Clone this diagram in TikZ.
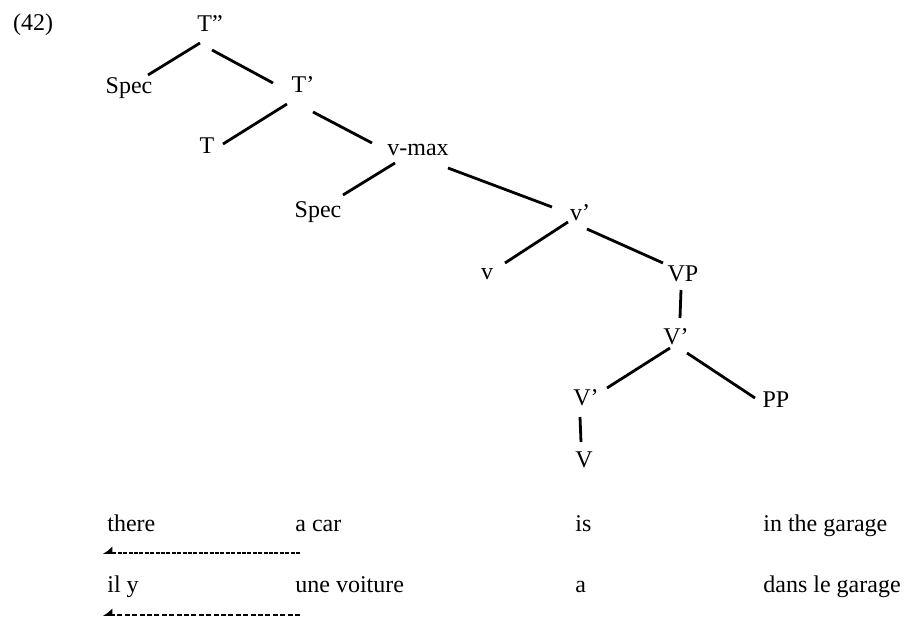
\documentclass[tikz,border=0pt]{standalone}
\usepackage{fontspec}
\setmainfont{Liberation Serif}
\usetikzlibrary{arrows.meta}

\tikzset{
  cat/.style={inner sep=2.5pt, font=\fontsize{12}{14}\selectfont},
  word/.style={anchor=base west, inner sep=0pt, font=\fontsize{12}{14}\selectfont},
  branch/.style={line width=1.4pt},
  move/.style={line width=0.8pt, -{Latex[right, length=4pt, width=7pt]}}
}

\begin{document}
\begin{tikzpicture}[x=0.5pt,y=-0.5pt]
    \useasboundingbox (0,0) rectangle (912,620);

    % tree
    \node[cat] (ex) at (33,25) {(42)};
    \node[cat] (tpp) at (210,24) {T''};
    \node[cat] (spec1) at (129,88) {Spec};
    \node[cat] (tp) at (303,85) {T'};
    \node[cat] (t) at (207,146) {T};
    \node[cat] (vmax) at (418,150) {v-max};
    \node[cat] (spec2) at (318,212) {Spec};
    \node[cat] (vbp) at (580,213) {v'};
    \node[cat] (vsm) at (487,274) {v};
    \node[cat] (vp) at (683,274) {VP};
    \node[cat] (vb1) at (676,337) {V'};
    \node[cat] (vb2) at (586,398) {V'};
    \node[cat] (pp) at (776,400) {PP};
    \node[cat] (vh) at (584,460) {V};

    % branches, ends offset from the labels' centres
    \draw[branch] ([shift={(-10,19)}]tpp.center) -- ([shift={(19,-13)}]spec1.center);
    \draw[branch] ([shift={(2,26)}]tpp.center) -- ([shift={(-30,-2)}]tp.center);
    \draw[branch] ([shift={(-16,19)}]tp.center) -- ([shift={(16,-2)}]t.center);
    \draw[branch] ([shift={(10,27)}]tp.center) -- ([shift={(-46,-7)}]vmax.center);
    \draw[branch] ([shift={(-23,13)}]vmax.center) -- ([shift={(25,-17)}]spec2.center);
    \draw[branch] ([shift={(30,18)}]vmax.center) -- ([shift={(-28,-6)}]vbp.center);
    \draw[branch] ([shift={(-12,9)}]vbp.center) -- ([shift={(18,-11)}]vsm.center);
    \draw[branch] ([shift={(7,16)}]vbp.center) -- ([shift={(-20,-11)}]vp.center);
    \draw[branch] ([shift={(-2,16)}]vp.center) -- ([shift={(4,-19)}]vb1.center);
    \draw[branch] ([shift={(-6,11)}]vb1.center) -- ([shift={(21,-10)}]vb2.center);
    \draw[branch] ([shift={(11,16)}]vb1.center) -- ([shift={(-21,-2)}]pp.center);
    \draw[branch] ([shift={(-6,19)}]vb2.center) -- ([shift={(-3,-18)}]vh.center);

    % English
    \node[word] (there) at (107,532) {there};
    \node[word] (acar) at (295,532) {a car};
    \node[word] (is) at (575,532) {is};
    \node[word] (inthe) at (763,532) {in the garage};
    % French
    \node[word] (ily) at (107,593) {il y};
    \node[word] (voiture) at (295,593) {une voiture};
    \node[word] (a) at (575,593) {a};
    \node[word] (dans) at (763,593) {dans le garage};

    \coordinate (m1s) at (300,553);
    \coordinate (m1e) at (103,553);
    \coordinate (m2s) at (300,615);
    \coordinate (m2e) at (103,615);
    \draw[move, dash pattern=on 2pt off 0.7pt] (m1s) -- (m1e);
    \draw[move, dash pattern=on 2.5pt off 1.2pt] (m2s) -- (m2e);
\end{tikzpicture}
\end{document}
